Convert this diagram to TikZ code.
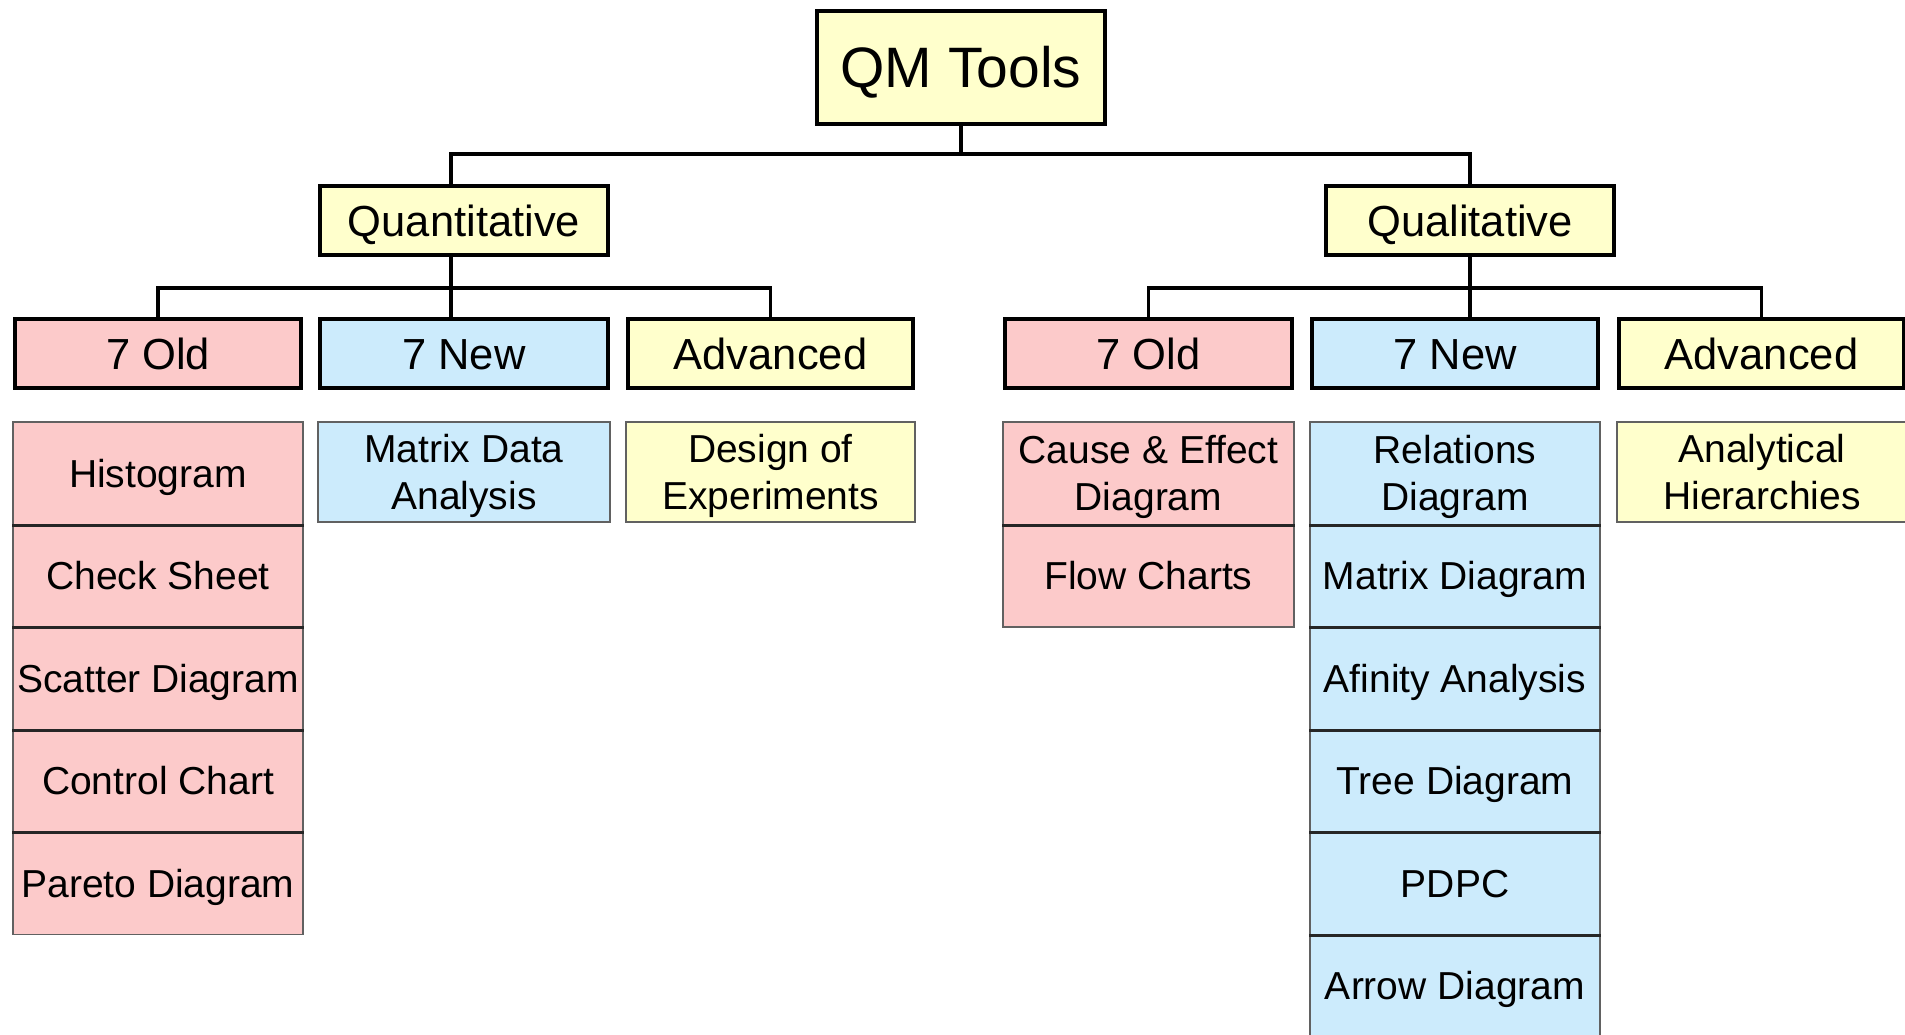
\documentclass[tikz,border=0pt]{standalone}
\usepackage{fontspec}
\setmainfont{Liberation Sans}
\definecolor{pinkc}{HTML}{FCCACA}
\definecolor{bluec}{HTML}{CCEBFC}
\definecolor{yelc}{HTML}{FFFFCC}
\begin{document}
\begin{tikzpicture}[x=1pt,y=-1pt,
  box/.style={draw=black, line width=4pt, inner sep=0pt, minimum height=69pt,
    text height=31.1pt, text depth=0pt, font=\fontsize{43.5}{52}\selectfont},
  item/.style={draw=black!62, line width=1.6pt, inner sep=0pt, align=center,
    minimum height=102.5pt, text height=27.9pt, text depth=0pt,
    font=\fontsize{39}{47}\selectfont},
  twoline/.style={text height=74.9pt, text depth=0pt},
  divider/.style={draw=black!85, line width=3pt},
  conn/.style={draw=black, line width=3.5pt},
  oldc/.style={fill=pinkc},
  newc/.style={fill=bluec},
  advc/.style={fill=yelc}]
\useasboundingbox[fill=white] (0,0) rectangle (1905,1034);

% root and the two families
\node[box, advc, minimum width=288pt, minimum height=113pt, text height=40.8pt,
      font=\fontsize{57}{64}\selectfont] (qm) at (961,67.5) {QM Tools};
\node[box, advc, minimum width=288pt] (quant) at (464,220.5) {Quantitative};
\node[box, advc, minimum width=288pt] (qual)  at (1470,220.5) {Qualitative};

% tool groups
\node[box, oldc, minimum width=286pt] (lold) at (158,353.5) {7 Old};
\node[box, newc, minimum width=288pt] (lnew) at (464,353.5) {7 New};
\node[box, advc, minimum width=285pt] (ladv) at (770.5,353.5) {Advanced};
\node[box, oldc, minimum width=287pt] (rold) at (1148.5,353.5) {7 Old};
\node[box, newc, minimum width=286pt] (rnew) at (1455,353.5) {7 New};
\node[box, advc, minimum width=285pt] (radv) at (1761.5,353.5) {Advanced};

% junctions of the connectors
\coordinate (j0) at (961,154);
\coordinate (jL) at (451,288);
\coordinate (jR) at (1470,288);

\draw[conn] (qm.south) -- (j0);
\draw[conn] (quant.north -| jL) |- (j0) -| (qual.north);
\draw[conn] (quant.south -| jL) -- (jL);
\draw[conn] (lold.north) |- (jL) -| (ladv.north);
\draw[conn] (jL) -- (lnew.north -| jL);
\draw[conn] (qual.south) -- (jR);
\draw[conn] (rold.north) |- (jR) -| (radv.north);
\draw[conn] (jR) -- (rnew.north -| jR);

% quantitative tools
\node[item, oldc, minimum width=290pt] (hist) at (158,473.25) {Histogram};
\node[item, oldc, minimum width=290pt] (chk)  at (158,575.75) {Check Sheet};
\node[item, oldc, minimum width=290pt] (scat) at (158,678.25) {Scatter Diagram};
\node[item, oldc, minimum width=290pt] (ctrl) at (158,780.75) {Control Chart};
\node[item, oldc, minimum width=290pt] (par)  at (158,883.25) {Pareto Diagram};
\node[item, twoline, newc, minimum width=292pt, minimum height=100pt] (mda) at (464,472)
  {Matrix Data\\Analysis};
\node[item, twoline, advc, minimum width=289pt, minimum height=100pt] (doe) at (770.5,472)
  {Design of\\Experiments};

% qualitative tools
\node[item, twoline, oldc, minimum width=291pt] (ce)  at (1148.5,473.25) {Cause \& Effect\\Diagram};
\node[item, oldc, minimum width=291pt] (flow) at (1148.5,575.75) {Flow Charts};
\node[item, twoline, newc, minimum width=290pt] (rel)  at (1455,473.25) {Relations\\Diagram};
\node[item, newc, minimum width=290pt] (mat)  at (1455,575.75) {Matrix Diagram};
\node[item, newc, minimum width=290pt] (aff)  at (1455,678.25) {Afinity Analysis};
\node[item, newc, minimum width=290pt] (tree) at (1455,780.75) {Tree Diagram};
\node[item, newc, minimum width=290pt] (pdpc) at (1455,883.25) {PDPC};
\node[item, newc, minimum width=290pt] (arr)  at (1455,985.75) {Arrow Diagram};
\node[item, twoline, advc, minimum width=290pt, minimum height=100pt] (ah) at (1762,472)
  {Analytical\\Hierarchies};

% heavier rules between stacked tools
\foreach \n in {hist,chk,scat,ctrl,ce,rel,mat,aff,tree,pdpc}
  \draw[divider] (\n.south west) -- (\n.south east);
\end{tikzpicture}
\end{document}
